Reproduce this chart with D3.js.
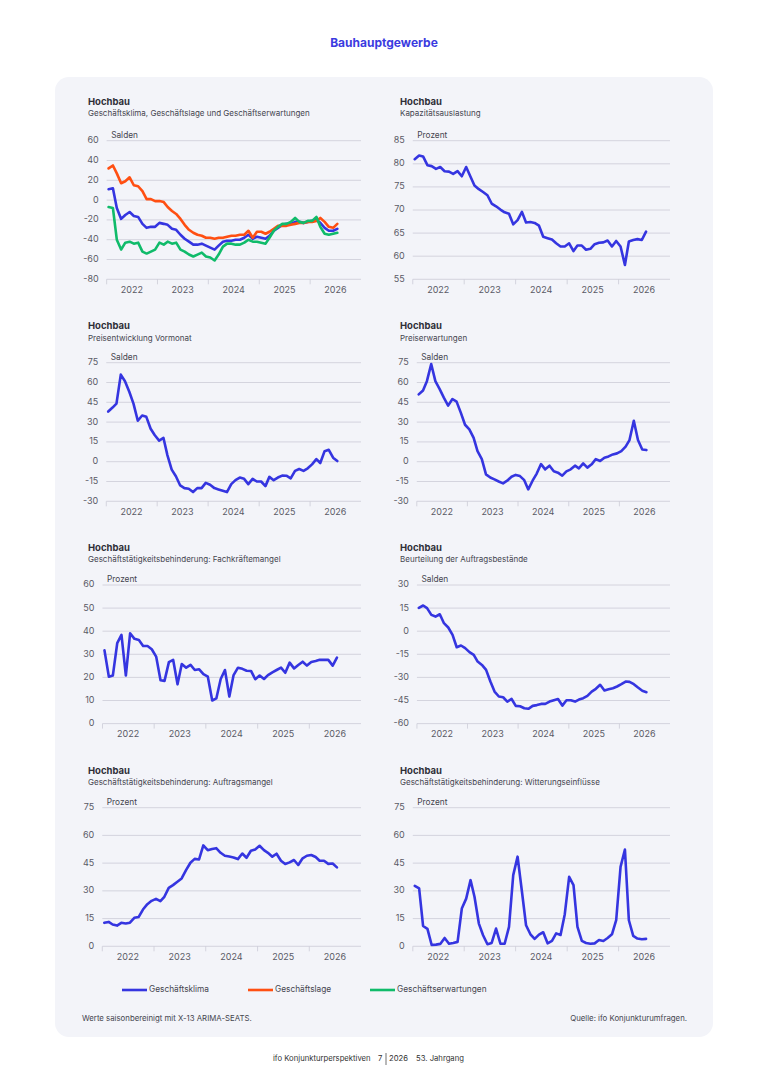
<!DOCTYPE html>
<html lang="de">
<head>
<meta charset="UTF-8">
<title>Bauhauptgewerbe</title>
<style>
  body { margin: 0; background: #fff; }
  svg { display: block; font-family: Inter, "Noto Sans", sans-serif; }
  .grid { stroke: #cbccd7; stroke-width: 0.8; }
  .tick-label { font-size: 9px; fill: #5a5a66; }
  .ptitle { font-size: 9.5px; font-weight: 700; fill: #2f2f38; }
  .psub { font-size: 8px; fill: #45454f; }
  .unit { font-size: 8.3px; fill: #45454f; }
  .line { fill: none; stroke-width: 2.6; stroke-linejoin: round; stroke-linecap: round; }
</style>
</head>
<body>
<div id="chart"></div>
<script src="https://cdn.jsdelivr.net/npm/d3@7"></script>
<script>
// monthly values, Jan 2022 .. Jul 2026
const startYear = 2022;
const nMonths = 55;
const yearLabels = ["2022", "2023", "2024", "2025", "2026"];

const klima = [11, 12, -8, -19, -15, -12, -16, -17, -24, -28, -27, -27, -23, -24, -25, -29, -30, -35, -39, -42,
  -45, -45, -44, -46, -48, -50, -46, -42, -41, -41, -40, -40, -38, -35, -39, -37, -38, -39, -36, -31,
  -28, -25, -24, -24, -22, -22, -23, -22, -21, -20, -23, -28, -31, -31, -29];
const lage = [32, 35, 27, 17, 19, 23, 15, 14, 9, 1, 1, -1, -1, -2, -7, -11, -14, -19, -25, -30,
  -33, -35, -36, -38, -38, -39, -38, -38, -37, -36, -36, -35, -35, -31, -38, -32, -32, -34, -32, -29,
  -26, -26, -26, -25, -24, -23, -23, -22, -22, -21, -18, -22, -27, -28, -24];
const erwartungen = [-7, -8, -40, -50, -43, -42, -44, -43, -52, -54, -52, -50, -43, -45, -42, -44, -43, -50, -52, -55,
  -57, -55, -53, -57, -58, -61, -55, -47, -44, -44, -45, -45, -43, -40, -42, -42, -43, -44, -38, -31,
  -27, -24, -24, -22, -18, -22, -23, -21, -21, -17, -27, -34, -35, -34, -33];
const kapazitaet = [81.0, 81.8, 81.6, 79.7, 79.5, 78.9, 79.3, 78.4, 78.3, 77.8, 78.4, 77.3, 79.3, 77.2, 75.3, 74.5, 73.9, 73.2, 71.4, 70.8,
  70.1, 69.5, 69.2, 66.9, 67.8, 69.6, 67.3, 67.4, 67.2, 66.6, 64.2, 63.9, 63.6, 62.8, 62.1, 62.1, 62.8, 61.1, 62.3, 62.3,
  61.4, 61.6, 62.6, 62.9, 63.0, 63.4, 62.1, 63.3, 62.1, 58.1, 63.2, 63.5, 63.7, 63.5, 65.3];
const preiseVormonat = [38, 41, 44, 66, 61, 53, 44, 31, 35, 34, 25, 20, 16, 18, 5, -6, -11, -18, -20, -20.5,
  -23, -20, -20, -16, -17.5, -20, -21, -22, -23, -17, -14, -12, -13, -17, -13, -15, -15, -18.5, -11.5, -14,
  -12, -10.5, -10.6, -12.6, -7, -5.5, -7, -5, -2, 2, -1, 8, 9, 3, 0.5];
const preiserwartungen = [51, 54, 61, 74, 61, 55, 48.5, 42.5, 47.5, 45.5, 37, 28, 24.5, 18, 8, 2, -9.6, -12, -13.4, -15,
  -16.4, -14.4, -11.4, -10, -10.9, -14, -21, -14.4, -9, -1.8, -5.8, -3, -7.3, -8.3, -10.6, -7.3, -5.8, -3, -5, -1.3,
  -4.5, -2, 2, 0.5, 3, 4, 5.5, 6.3, 8, 11.4, 16.4, 31, 16.4, 9.3, 8.8];
const fachkraefte = [31.7, 20.3, 20.8, 34.8, 38.4, 20.8, 39.1, 36.7, 36.2, 33.6, 33.6, 32.2, 29, 18.8, 18.5, 26.6, 27.6, 17, 25.8, 24.2,
  25.4, 23.2, 23.5, 21.4, 20.3, 10, 10.9, 19.3, 23.2, 11.7, 21, 24.2, 23.7, 22.9, 22.8, 19.2, 20.8, 19.3, 21, 22.2,
  23.2, 24.2, 22, 26.4, 23.9, 25.4, 26.8, 25.1, 26.7, 27.1, 27.6, 27.6, 27.6, 25.1, 28.6];
const auftragsbestaende = [15.2, 16.7, 15, 10.6, 9.5, 11, 5.2, 2.4, -2.4, -10.4, -9.3, -11, -13.6, -15.4, -19.7, -21.9, -25.1, -32.7, -39.2, -42.4,
  -42.9, -45.7, -44, -48.5, -48.7, -50, -50.4, -48.5, -48, -47.2, -47.2, -45.7, -44.8, -44, -48.3, -44.8, -44.8, -45.7, -44.4, -43.5,
  -42, -39.2, -37.4, -34.8, -38.5, -37.7, -37, -35.9, -34.4, -32.7, -32.9, -34.4, -36.6, -38.7, -39.6];
const auftragsmangel = [12.7, 13.2, 11.8, 11.2, 12.7, 12.3, 12.8, 15.4, 15.9, 19.9, 22.8, 24.6, 25.7, 24.4, 26.8, 31.6, 33.1, 34.9, 36.7, 41.2,
  45.2, 47.3, 47, 54.6, 52, 52.7, 53.1, 50.6, 49, 48.6, 48.1, 47.2, 50.2, 47.9, 51.7, 52.4, 54.4, 52, 50.6, 48.5,
  50.1, 46.3, 44.5, 45.4, 46.7, 44, 47.6, 49, 49.4, 48.3, 46.3, 46.3, 44.6, 44.8, 42.7];
const witterung = [32.7, 31.3, 11, 9.4, 0.7, 0.9, 1.3, 4.5, 1.4, 1.8, 2.4, 20.4, 25.8, 35.8, 26.8, 12.3, 6, 1.1, 1.8, 9.6,
  1.4, 1.4, 10.5, 38.5, 48.5, 29.5, 11.4, 6.5, 4, 6.3, 7.6, 1.6, 2.9, 7, 6.1, 17.4, 37.6, 33.1, 10.5, 2.9,
  1.8, 1.4, 1.6, 3.4, 2.9, 4.5, 6.5, 14.1, 43, 52.4, 14.1, 5.6, 4.2, 3.8, 4];

// y ticks per panel
const ticksKlima = [60, 40, 20, 0, -20, -40, -60, -80];
const ticksKapazitaet = [85, 80, 75, 70, 65, 60, 55];
const ticksPreise = [75, 60, 45, 30, 15, 0, -15, -30];
const ticksFachkraefte = [60, 50, 40, 30, 20, 10, 0];
const ticksAuftrag = [30, 15, 0, -15, -30, -45, -60];
const ticksProzent75 = [75, 60, 45, 30, 15, 0];

const colors = { klima: "#3535e0", lage: "#ff4f12", erwartungen: "#10bb6a" };

const panels = [
  { sub: "Geschäftsklima, Geschäftslage und Geschäftserwartungen", unit: "Salden", ticks: ticksKlima,
    series: [[klima, colors.klima], [lage, colors.lage], [erwartungen, colors.erwartungen]] },
  { sub: "Kapazitätsauslastung", unit: "Prozent", ticks: ticksKapazitaet, series: [[kapazitaet, colors.klima]] },
  { sub: "Preisentwicklung Vormonat", unit: "Salden", ticks: ticksPreise, series: [[preiseVormonat, colors.klima]] },
  { sub: "Preiserwartungen", unit: "Salden", ticks: ticksPreise, series: [[preiserwartungen, colors.klima]] },
  { sub: "Geschäftstätigkeitsbehinderung: Fachkräftemangel", unit: "Prozent", ticks: ticksFachkraefte, series: [[fachkraefte, colors.klima]] },
  { sub: "Beurteilung der Auftragsbestände", unit: "Salden", ticks: ticksAuftrag, series: [[auftragsbestaende, colors.klima]] },
  { sub: "Geschäftstätigkeitsbehinderung: Auftragsmangel", unit: "Prozent", ticks: ticksProzent75, series: [[auftragsmangel, colors.klima]] },
  { sub: "Geschäftstätigkeitsbehinderung: Witterungseinflüsse", unit: "Prozent", ticks: ticksProzent75, series: [[witterung, colors.klima]] }
];

const legendItems = [["Geschäftsklima", colors.klima], ["Geschäftslage", colors.lage], ["Geschäftserwartungen", colors.erwartungen]];

const W = 768, H = 1086;
const svg = d3.select("#chart").append("svg").attr("width", W).attr("height", H);

svg.append("text").attr("x", 384).attr("y", 46.5).attr("text-anchor", "middle")
  .style("font-size", "12px").style("font-weight", 700).style("fill", "#3b3be0")
  .text("Bauhauptgewerbe");

svg.append("rect").attr("x", 55).attr("y", 77).attr("width", 658).attr("height", 960)
  .attr("rx", 14).attr("fill", "#f3f4f9");

const cols = [{ labelX: 83, titleX: 88, right: 361 }, { labelX: 393.5, titleX: 400, right: 670 }];
const rowTop = [140.7, 362.7, 585, 807.7];
const rowTitle = [102, 326.7, 548.3, 771];
const plotH = 138.6;

const months = d3.range(nMonths).map(i => new Date(startYear, i, 15));
const yearStarts = yearLabels.map(y => new Date(+y, 0, 1));

panels.forEach((p, i) => {
  const col = cols[i % 2], r = Math.floor(i / 2);
  const top = rowTop[r], bottom = top + plotH;
  const g = svg.append("g");

  g.append("text").attr("class", "ptitle").attr("x", col.titleX).attr("y", rowTitle[r])
    .attr("dominant-baseline", "middle").text("Hochbau");
  g.append("text").attr("class", "psub").attr("x", col.titleX).attr("y", rowTitle[r] + 11.8)
    .attr("dominant-baseline", "middle").text(p.sub);

  // y labels first to find the plot's left edge
  const y = d3.scaleLinear().domain(d3.extent(p.ticks)).range([bottom, top]);
  const labels = g.selectAll(".tick-label.y").data(p.ticks).join("text")
    .attr("class", "tick-label y").attr("dominant-baseline", "middle")
    .attr("y", d => y(d)).text(d => d);
  const maxW = d3.max(labels.nodes(), n => n.getComputedTextLength());
  const left = col.labelX + maxW + 8;
  labels.attr("x", left - 8).attr("text-anchor", "end");

  const x = d3.scaleTime().domain([new Date(startYear, 0, 1), new Date(startYear + 5, 0, 1)])
    .range([left, col.right]);

  g.selectAll(".grid.h").data(p.ticks).join("line").attr("class", "grid h")
    .attr("x1", left).attr("x2", col.right).attr("y1", d => y(d)).attr("y2", d => y(d));
  g.selectAll(".grid.v").data(yearStarts).join("line").attr("class", "grid v")
    .attr("x1", d => x(d)).attr("x2", d => x(d)).attr("y1", bottom).attr("y2", bottom + 5);
  g.selectAll(".tick-label.x").data(yearLabels).join("text").attr("class", "tick-label x")
    .attr("x", d => x(new Date(+d, 6, 1))).attr("y", bottom + 11)
    .attr("text-anchor", "middle").attr("dominant-baseline", "middle").text(d => d);

  g.append("text").attr("class", "unit").attr("x", left + 4.5).attr("y", top - 5)
    .attr("dominant-baseline", "middle").text(p.unit);

  const line = d3.line().x((d, j) => x(months[j])).y(d => y(d));
  p.series.forEach(([vals, c]) => {
    g.append("path").attr("class", "line").attr("stroke", c).attr("d", line(vals));
  });
});

// legend
const legendX = [122, 248, 370];
legendItems.forEach(([name, c], i) => {
  svg.append("line").attr("x1", legendX[i]).attr("x2", legendX[i] + 25).attr("y1", 990).attr("y2", 990)
    .attr("stroke", c).attr("stroke-width", 2.6);
  svg.append("text").attr("x", legendX[i] + 27).attr("y", 990).attr("dominant-baseline", "middle")
    .style("font-size", "8.3px").style("fill", "#45454f").text(name);
});

svg.append("text").attr("x", 82).attr("y", 1019).attr("dominant-baseline", "middle")
  .style("font-size", "7.8px").style("fill", "#45454f").text("Werte saisonbereinigt mit X-13 ARIMA-SEATS.");
svg.append("text").attr("x", 687).attr("y", 1019).attr("dominant-baseline", "middle").attr("text-anchor", "end")
  .style("font-size", "7.8px").style("fill", "#45454f").text("Quelle: ifo Konjunkturumfragen.");

// page footer
const foot = svg.append("text").attr("y", 1059).attr("dominant-baseline", "middle")
  .style("font-size", "7.7px").style("fill", "#333");
foot.append("tspan").attr("x", 273).text("ifo Konjunkturperspektiven");
foot.append("tspan").attr("x", 378).text("7");
foot.append("tspan").attr("x", 389).text("2026");
foot.append("tspan").attr("x", 416).text("53. Jahrgang");
svg.append("line").attr("x1", 386).attr("x2", 386).attr("y1", 1053).attr("y2", 1065)
  .attr("stroke", "#333").attr("stroke-width", 0.7);
</script>
</body>
</html>
